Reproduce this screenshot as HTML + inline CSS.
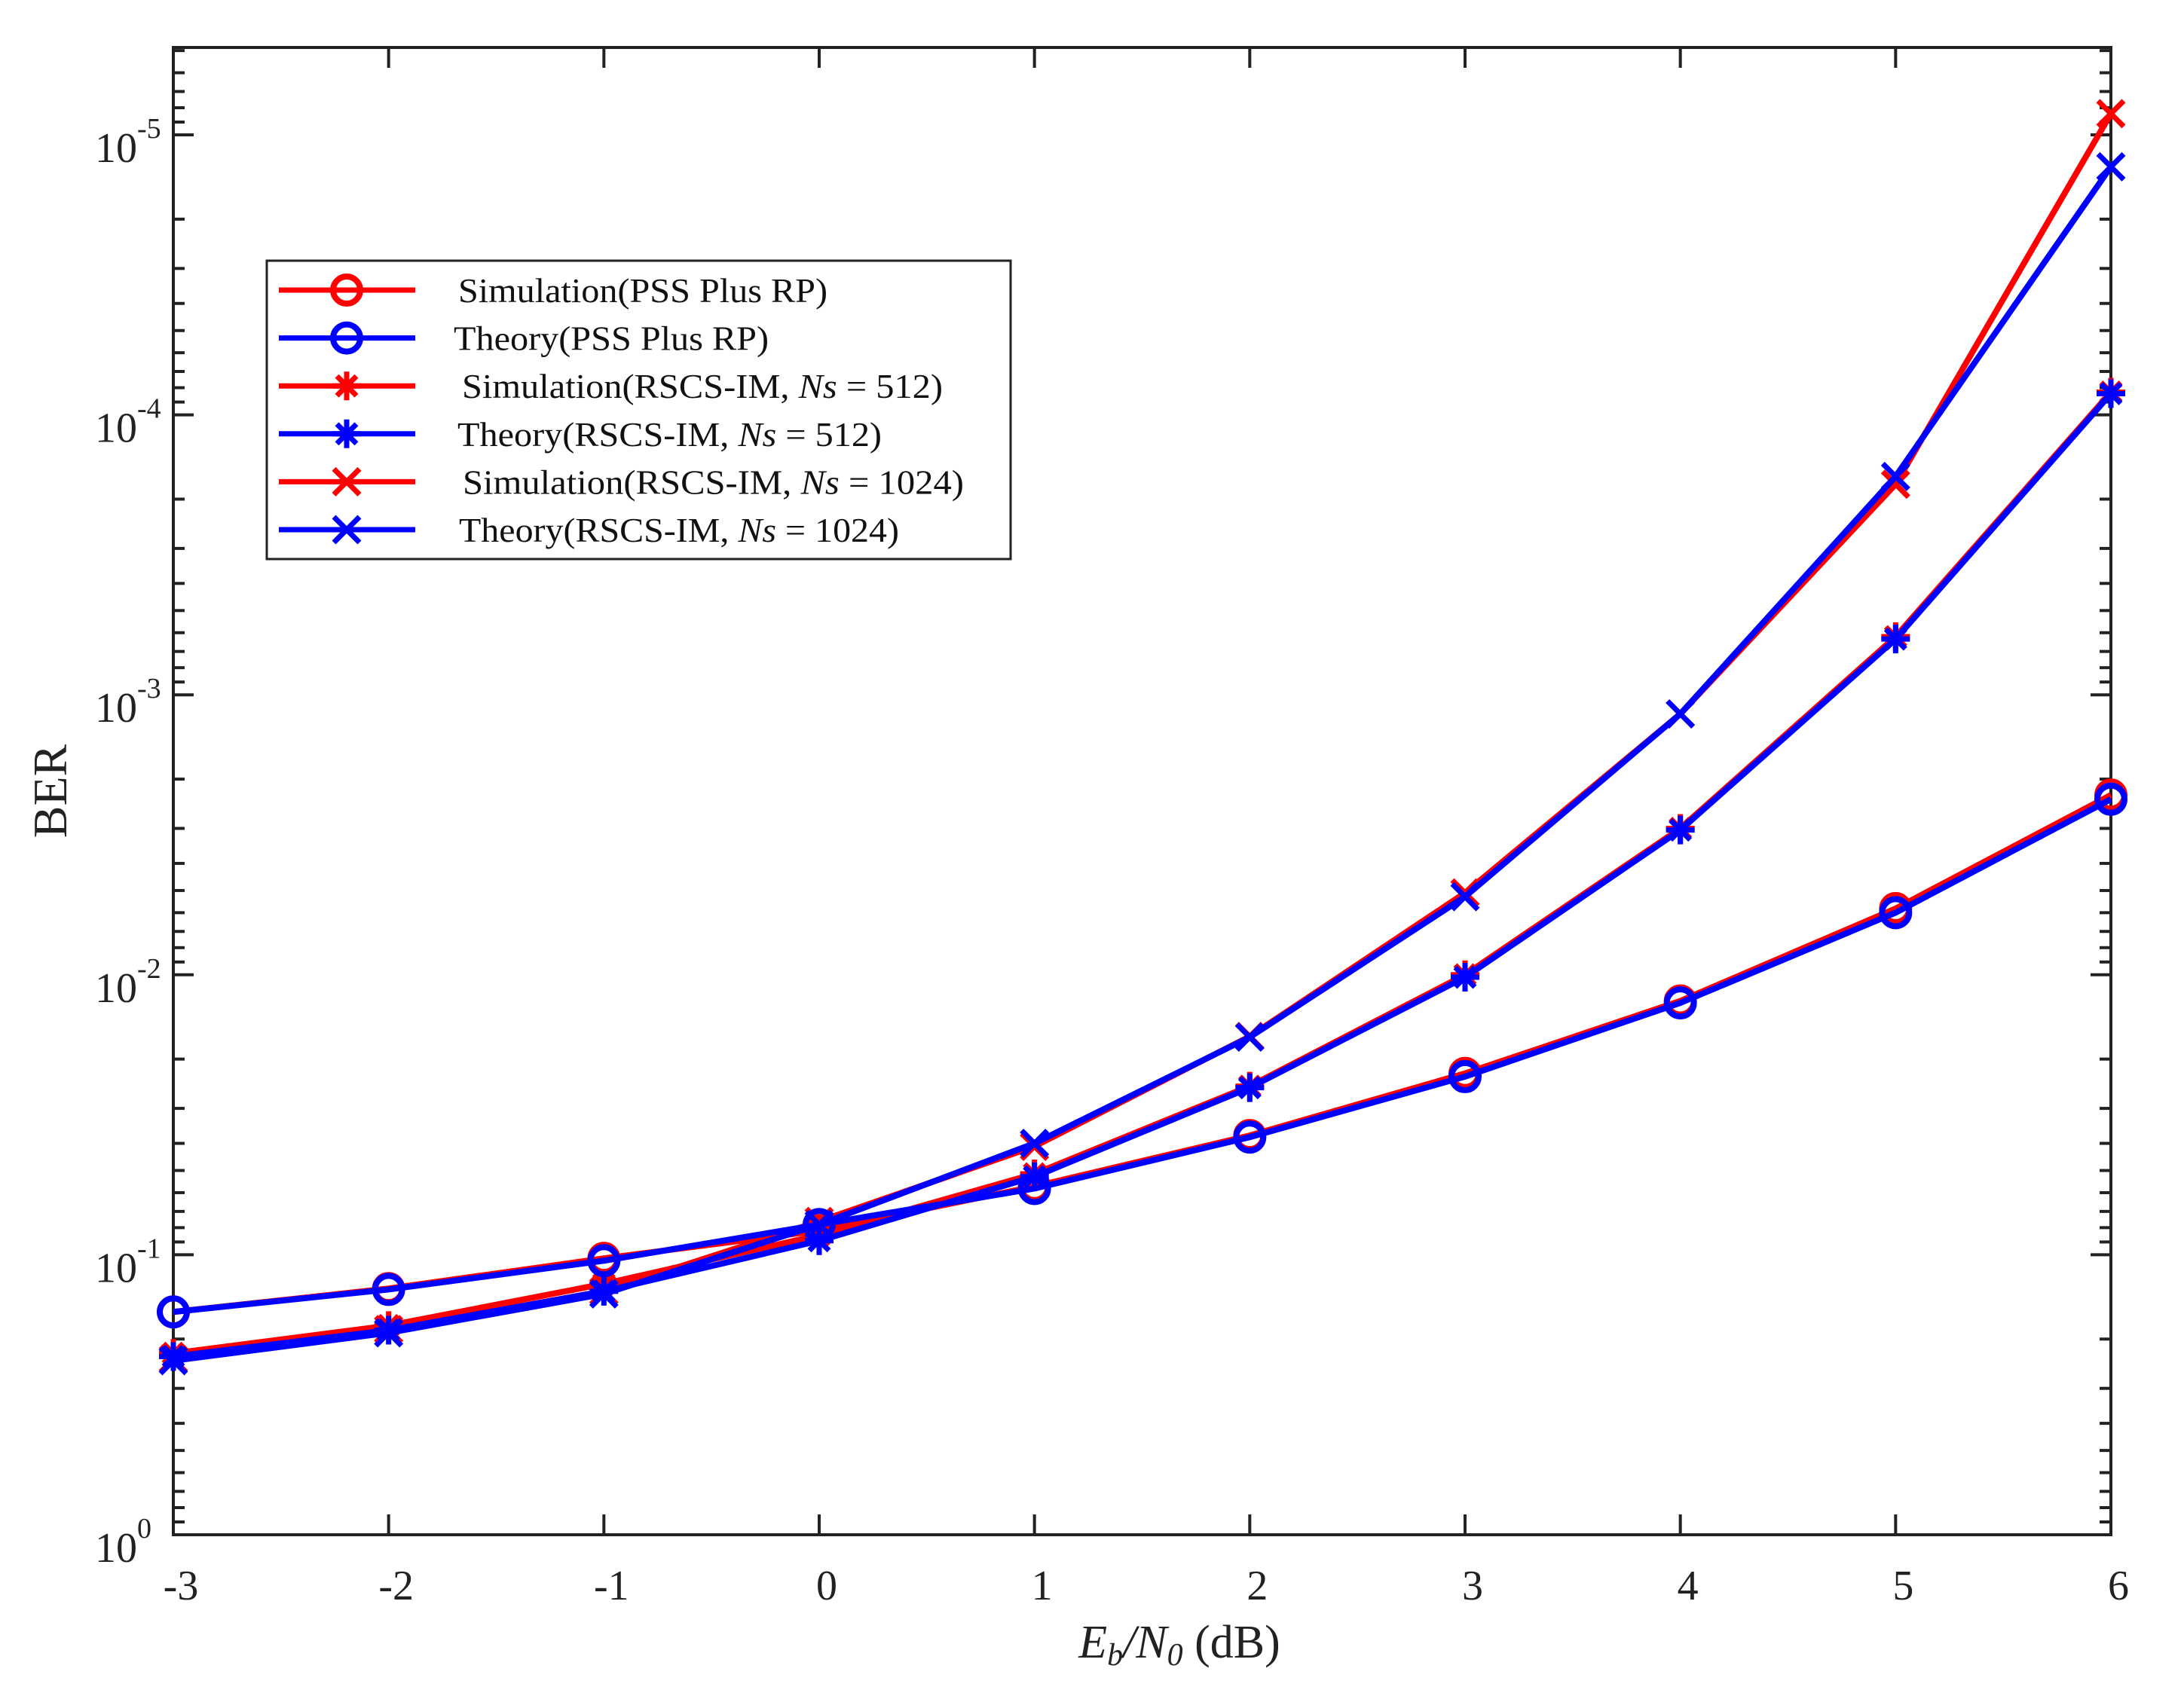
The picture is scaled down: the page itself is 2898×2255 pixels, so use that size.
<!DOCTYPE html>
<html><head><meta charset="utf-8">
<style>
html,body{margin:0;padding:0;background:#fff;}
svg{display:block;font-family:"Liberation Serif",serif;}
</style></head>
<body>
<svg id="chart" width="2898" height="2255" viewBox="0 0 2898 2255" xmlns="http://www.w3.org/2000/svg">
<rect x="0" y="0" width="2898" height="2255" fill="#fff"/>
<g id="axes"></g>
<g id="series"></g>
<g id="legend"></g>
<text x="0" y="0" font-size="64" transform="translate(88,1050) rotate(-90)" text-anchor="middle" fill="#222">BER</text>
<text x="1565" y="2200" font-size="62" text-anchor="middle" fill="#222"><tspan font-style="italic">E</tspan><tspan font-style="italic" font-size="42" dy="10">b</tspan><tspan font-style="italic" dy="-10">/N</tspan><tspan font-style="italic" font-size="42" dy="10">0</tspan><tspan dy="-10"> (dB)</tspan></text>
</svg>
<script>
const xCats = [-3,-2,-1,0,1,2,3,4,5,6];
const xTickLabels = ["-3","-2","-1","0","1","2","3","4","5","6"];
const yTickExps = ["0","-1","-2","-3","-4","-5"];
const simPSS   = [0.160,0.132,0.103,0.082,0.057,0.0375,0.0225,0.0124,0.0058,0.00228];
const thPSS    = [0.160,0.133,0.105,0.078,0.058,0.038,0.0231,0.0126,0.0060,0.00236];
const sim512   = [0.225,0.179,0.127,0.0851,0.0514,0.025,0.0100,0.0030,6.2e-4,8.3e-5];
const th512    = [0.231,0.186,0.135,0.0891,0.0526,0.0253,0.0102,0.00304,6.32e-4,8.4e-5];
const sim1024  = [0.236,0.185,0.135,0.076,0.041,0.0166,0.0051,0.00117,1.77e-4,8.4e-6];
const th1024   = [0.239,0.190,0.138,0.078,0.040,0.0167,0.00526,0.00117,1.66e-4,1.30e-5];
const seriesNames = ["Simulation(PSS Plus RP)","Theory(PSS Plus RP)","Simulation(RSCS-IM, Ns = 512)","Theory(RSCS-IM, Ns = 512)","Simulation(RSCS-IM, Ns = 1024)","Theory(RSCS-IM, Ns = 1024)"];

const NS="http://www.w3.org/2000/svg";
const L=230,R=2801,T=63,B=2037,DEC=371.6;
const xs=v=>L+(v-(-3))*(R-L)/9;
const ys=v=>B+Math.log10(v)*DEC;
function mk(tag,attrs,parent){const e=document.createElementNS(NS,tag);for(const k in attrs)e.setAttribute(k,attrs[k]);parent.appendChild(e);return e;}
const axes=document.getElementById('axes');
const box=mk('rect',{x:L,y:T,width:R-L,height:B-T,fill:'none',stroke:'#222','stroke-width':4},axes);


xCats.forEach((c,i)=>{
  const x=xs(c);
  const t1=mk('line',{x1:x,x2:x,y1:B,y2:B-27,stroke:'#222','stroke-width':4},axes);
  
  
  const t2=mk('line',{x1:x,x2:x,y1:T,y2:T+27,stroke:'#222','stroke-width':4},axes);
  
  
  const lb=mk('text',{x:x+10,y:2123,'font-size':56,'text-anchor':'middle',fill:'#222'},axes);
  lb.textContent=xTickLabels[i];
  
  
});
for(let d=0;d<=5;d++){
  const base=Math.pow(10,-d);
  const y=ys(base);
  [[L,L+27],[R,R-27]].forEach(p=>{
    const t=mk('line',{x1:p[0],x2:p[1],y1:y,y2:y,stroke:'#222','stroke-width':4},axes);
    
    
  });
  const lb=mk('text',{x:126,y:y+36,'font-size':56,fill:'#222'},axes);
  
  
  lb.textContent='10';
  const sp=mk('tspan',{'font-size':38,dy:-32},lb);
  sp.textContent=yTickExps[d];
  for(let m=2;m<=9;m++){
    const v=base/10*m;
    const ym=ys(v);
    if(ym<T+2) continue;
    [[L,L+15],[R,R-15]].forEach(p=>{
      const t=mk('line',{x1:p[0],x2:p[1],y1:ym,y2:ym,stroke:'#222','stroke-width':4},axes);
      
      
    });
  }
}
const ser=document.getElementById('series');
function marker(kind,x,y,col,g){
  if(kind==='o'){mk('circle',{cx:x,cy:y,r:18,fill:'none',stroke:col,'stroke-width':8},g);}
  else if(kind==='x'){const s=17;mk('path',{d:`M${x-s} ${y-s}L${x+s} ${y+s}M${x-s} ${y+s}L${x+s} ${y-s}`,stroke:col,'stroke-width':7,fill:'none'},g);}
  else {const s=19;mk('path',{d:`M${x} ${y-s}V${y+s}M${x-s} ${y}H${x+s}M${x-13} ${y-13}L${x+13} ${y+13}M${x-13} ${y+13}L${x+13} ${y-13}`,stroke:col,'stroke-width':7,fill:'none'},g);}
}
const defs=[[simPSS,'#ff0000','o','sim-pss'],[sim512,'#ff0000','*','sim-512'],[sim1024,'#ff0000','x','sim-1024'],[thPSS,'#0000ff','o','theory-pss'],[th512,'#0000ff','*','theory-512'],[th1024,'#0000ff','x','theory-1024']];
defs.forEach(d=>{
  const g=mk('g',{},ser);
  
  
  const pts=d[0].map((v,i)=>xs(xCats[i])+','+ys(v)).join(' ');
  mk('polyline',{points:pts,fill:'none',stroke:d[1],'stroke-width':8,'stroke-linejoin':'round'},g);
  d[0].forEach((v,i)=>marker(d[2],xs(xCats[i]),ys(v),d[1],g));
});
const lg=document.getElementById('legend');


mk('rect',{x:354,y:346,width:987,height:396,fill:'#fff',stroke:'#222','stroke-width':3},lg);
const lk=[['#ff0000','o'],['#0000ff','o'],['#ff0000','*'],['#0000ff','*'],['#ff0000','x'],['#0000ff','x']];
const tx=[608,602,613,607,614,609];
const tw=[490,418,638,563,665,584];
seriesNames.forEach((n,i)=>{
  const y=385+i*63.6;
  const g=mk('g',{},lg);
  
  
  mk('line',{x1:370,x2:551,y1:y,y2:y,stroke:lk[i][0],'stroke-width':7},g);
  marker(lk[i][1],460,y,lk[i][0],g);
  const t=mk('text',{x:tx[i],y:y+16,'font-size':46,fill:'#111',textLength:tw[i],lengthAdjust:'spacingAndGlyphs'},g);
  const parts=n.split('Ns');
  t.appendChild(document.createTextNode(parts[0]));
  if(parts.length>1){const it=mk('tspan',{'font-style':'italic'},t);it.textContent='Ns';t.appendChild(document.createTextNode(parts[1]));}
});
</script>
</body></html>
